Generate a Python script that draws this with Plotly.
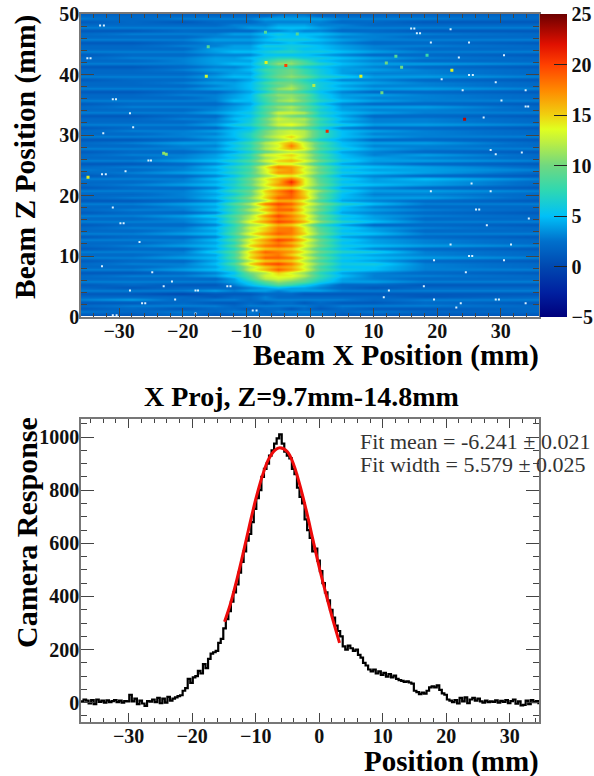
import numpy as np
import plotly.graph_objects as go

W, H = 594, 776
SERIF = "Liberation Serif"

# ---------- 2D map ----------
x_cols = [-37, -28, -20, -15, -12, -9.5, -7, -5, -3, -1, 1.5, 5, 10, 18, 37]
z_rows = [0.25 + 0.5 * i for i in range(100)]
map_rows = [
[1,1,2,1,1,2,2,1,2,2,2,1,1,1,1],
[3,2,3,2,3,3,2,3,3,3,3,2,3,2,2],
[1,2,1,2,2,1,2,2,1,2,1,2,1,1,2],
[2,3,3,3,2,3,3,3,3,3,2,3,3,3,2],
[1,1,2,1,1,2,1,2,2,1,2,1,1,2,1],
[3,4,2,3,3,2,3,3,3,3,3,3,2,3,3],
[2,2,2,1,2,2,3,2,2,2,2,2,2,1,2],
[1,1,0,1,1,1,2,2,2,1,1,1,1,1,1],
[3,3,3,4,3,4,4,3,4,4,4,3,3,3,3],
[2,1,2,2,2,3,4,5,4,4,3,2,1,2,2],
[1,2,1,1,3,5,7,9,8,6,4,2,2,1,1],
[3,3,3,3,4,6,9,11,10,9,6,4,4,3,3],
[2,2,2,2,4,8,12,13,12,10,7,4,3,2,2],
[2,3,3,4,6,9,13,14,14,12,8,5,3,3,2],
[1,1,2,3,5,10,12,15,13,11,7,4,3,2,1],
[3,3,4,5,7,13,16,19,17,14,9,6,5,3,3],
[2,2,3,4,7,12,15,17,16,13,8,5,5,3,2],
[2,3,3,5,9,15,19,20,18,14,10,6,6,3,2],
[1,2,2,4,7,12,15,16,15,12,8,5,4,2,1],
[3,3,4,5,9,15,19,19,18,14,10,6,5,4,3],
[2,2,3,4,8,14,17,18,15,12,8,5,4,3,2],
[3,3,3,6,9,15,19,18,17,14,10,7,6,3,2],
[1,2,2,4,7,12,15,16,15,12,8,5,3,2,1],
[2,3,4,5,9,15,18,19,18,14,10,6,5,4,3],
[2,2,3,4,7,13,16,18,16,13,9,5,4,3,2],
[3,3,3,5,9,14,17,20,19,15,10,6,4,3,2],
[1,2,2,3,7,11,14,16,16,12,8,4,3,2,1],
[3,3,4,5,9,14,17,19,18,15,10,6,5,3,3],
[2,2,3,4,8,12,15,18,18,14,9,5,4,2,2],
[2,3,3,5,8,13,15,18,18,14,9,6,4,3,2],
[1,2,2,3,7,11,13,16,15,12,7,4,2,2,1],
[3,3,3,5,9,14,17,20,19,16,11,7,5,3,3],
[2,2,3,4,8,12,15,18,17,14,9,5,4,2,2],
[3,3,4,6,9,12,17,20,18,15,10,6,4,3,2],
[1,2,2,3,7,10,13,17,16,13,8,4,3,2,1],
[2,3,3,5,8,12,16,19,19,14,10,5,4,3,2],
[2,2,3,4,7,10,14,18,17,13,9,5,3,2,2],
[3,3,4,5,9,12,18,20,19,15,11,7,5,3,3],
[1,1,2,3,6,9,12,16,16,13,8,4,3,2,1],
[2,3,3,5,8,11,15,19,19,16,10,5,4,4,2],
[2,2,3,4,6,9,14,17,19,15,9,5,3,3,2],
[3,3,3,5,8,10,15,18,20,15,11,6,4,4,3],
[1,2,2,3,6,8,12,14,15,12,8,4,3,2,1],
[2,3,4,5,7,10,14,17,19,14,10,6,5,4,2],
[2,2,3,4,6,9,13,16,21,14,9,5,4,4,2],
[3,3,3,5,7,10,14,16,18,14,9,6,4,5,3],
[1,2,2,3,5,8,11,13,14,12,8,4,3,2,1],
[2,3,4,5,7,9,13,17,17,14,10,6,5,4,2],
[3,2,3,4,6,8,13,16,17,13,9,5,4,4,3],
[2,3,3,5,7,9,14,18,17,14,10,6,5,4,2],
[1,1,2,3,5,7,10,13,13,11,7,4,3,2,1],
[3,3,4,5,7,9,13,15,16,14,10,6,4,4,3],
[2,2,3,4,5,7,11,13,14,12,8,5,4,3,2],
[2,3,3,4,6,8,13,14,15,13,9,5,3,4,2],
[1,2,2,3,4,6,9,11,12,11,7,4,3,2,1],
[3,3,3,4,6,8,12,14,16,14,9,6,4,3,3],
[2,2,3,3,5,7,11,13,18,13,8,5,3,3,2],
[2,3,4,4,6,8,12,14,16,13,9,5,4,4,2],
[1,1,2,3,4,6,9,11,13,10,6,4,2,2,1],
[3,3,3,4,5,7,11,13,15,12,8,5,4,3,3],
[2,2,3,3,5,7,10,12,13,12,8,5,3,3,2],
[2,3,3,4,5,6,10,12,13,12,8,5,4,3,2],
[1,2,2,2,4,5,8,10,10,9,6,3,2,2,1],
[3,3,3,4,6,7,10,13,14,12,8,6,4,4,3],
[2,2,2,3,4,6,9,12,12,11,7,4,3,3,2],
[2,2,3,3,5,6,10,13,12,12,8,5,3,3,2],
[1,1,2,2,4,5,8,11,10,9,6,4,2,2,1],
[3,3,3,4,5,6,9,13,13,12,7,5,4,3,3],
[2,2,2,3,4,5,8,10,11,9,6,4,3,3,2],
[2,3,3,3,4,5,9,11,12,10,7,4,4,4,2],
[1,2,2,2,3,4,7,9,9,8,5,3,2,2,1],
[3,3,3,3,5,5,8,11,12,10,7,5,4,3,3],
[2,2,2,3,4,5,8,10,11,9,6,4,3,3,2],
[2,2,3,3,4,5,9,11,11,10,6,4,4,3,2],
[1,1,2,2,3,4,6,9,9,7,5,3,2,2,1],
[3,3,3,4,4,5,8,11,12,9,6,5,4,4,3],
[2,2,2,3,4,5,7,9,11,9,6,4,3,3,2],
[2,2,3,4,4,5,8,10,10,8,6,5,4,3,2],
[1,2,2,3,3,4,6,8,9,7,5,3,3,2,1],
[3,3,3,4,5,5,8,10,11,10,7,6,4,4,3],
[2,2,2,3,4,4,7,9,10,8,6,4,3,3,2],
[2,2,3,4,4,5,8,9,10,8,6,4,4,3,2],
[1,1,2,3,3,4,6,8,8,6,5,4,3,2,1],
[3,3,3,4,5,5,8,11,11,9,7,5,4,4,3],
[2,2,3,4,4,4,7,9,10,8,5,4,3,2,2],
[2,3,3,4,4,5,6,7,7,6,6,5,4,3,2],
[1,2,2,3,3,3,5,5,5,5,4,3,2,2,1],
[3,3,3,4,5,5,6,7,7,6,6,5,4,3,3],
[2,2,2,4,4,4,5,5,6,5,5,4,3,2,2],
[2,2,3,3,4,4,6,6,6,6,5,4,3,3,2],
[1,1,2,3,3,3,4,4,5,4,4,3,2,2,1],
[3,3,3,4,4,4,5,6,6,6,5,4,3,3,3],
[2,2,2,3,3,3,4,5,5,5,4,3,3,2,2],
[2,3,3,3,4,4,5,6,5,5,5,4,3,3,2],
[1,1,2,2,2,2,3,3,4,3,3,2,2,1,1],
[3,3,3,3,3,4,4,5,5,5,4,3,3,3,3],
[2,2,2,2,3,3,3,4,4,4,3,3,2,2,2],
[1,2,1,2,2,2,3,3,3,3,3,2,2,1,1],
[3,2,3,3,3,3,4,4,4,4,4,3,3,3,2],
[2,2,2,2,2,2,2,3,3,3,2,2,2,2,2],
[1,1,1,1,1,1,1,1,2,2,1,1,1,1,1],
]

# dead pixels (white specks) and isolated hot pixels
speck_x = [-33,-32.4,-35,-34.5,-31,-30.5,-28.3,-27.8,-32.5,-25.4,-25,-32.7,-32.1,-29,-31,-29.8,-29.3,-26.8,-24.8,-32.7,-23,-21.7,-28.3,-18,-17.6,-13,-12.5,-26.4,-25.9,-21.2,-18,-31,-30.4,-9,-8.4,
           15.9,16.4,16.8,17.3,22.1,25,19,23.4,30.5,25,25.6,20.7,29.2,24,33.9,30.1,33.9,34.3,27.3,28.4,29.2,33.3,25.4,19,28.4,26.1,26.6,34.4,27.8,22.1,31.6,25,25.5,19.5,30.5,24.5,17.9,11.6,19.5,29.2,29.7,23.7,33.9,12.4,23]
speck_z = [48.1,48.1,42.7,42.7,35.9,35.9,33.6,31.3,30.3,25.8,25.8,23.5,23.5,24,18,15.4,15.4,12.3,7.3,8.3,5,5.8,4.3,4.3,4.3,5,5,2.2,2.2,2.8,0.5,0.2,0.2,1,1,
           47.6,47.6,46.8,46.8,47.5,45.3,45.3,42.8,43.2,39.9,39.9,39.2,38.7,37.4,37.4,35.7,34.7,34.7,32.9,27.5,26.8,27.1,22,20.7,20.7,17.7,17.7,16.2,15.1,11.9,11.9,10,10,9.3,9.3,7.3,5,3.2,2.8,2.8,2.8,2.2,2.2,4.3,1.5]
hot_x = [-3.8,-6.9,-16.3,-16,-2,-7,0.6,22.3,24.3,2.7,11.3,8,14.4,13.5,12,18.4,-23,-22.6,-34.9]
hot_z = [41.5,42,39.7,44.6,46.7,47,38.2,40.7,32.6,30.6,37,39.7,41.2,43,41.9,43.2,27,26.8,23]
hot_v = [20,14,13,9,9,9,12,14,23,21,10,14,10,9,10,8,11,11,14]

colorbar_ticks = [-5, 0, 5, 10, 15, 20, 25]
jet = [[0.0,"#00007c"],[0.08,"#0020a0"],[0.167,"#0048b0"],[0.25,"#0070cc"],[0.333,"#00c0f8"],
       [0.42,"#30d8b0"],[0.5,"#70d880"],[0.58,"#c0f040"],[0.62,"#e0ff20"],[0.667,"#f0d010"],
       [0.75,"#ff8800"],[0.833,"#ff4000"],[0.9,"#e01000"],[1.0,"#6c0000"]]

# ---------- projection ----------
bin_start, bin_width = -37.5, 0.4
proj_counts = [5,12,8,-3,10,-5,12,3,8,0,9,2,6,10,2,8,0,6,5,30,5,15,-5,8,-3,-12,6,4,12,2,18,-2,15,0,22,8,15,20,25,28,
45,55,90,75,95,100,120,110,145,130,165,185,190,195,225,240,280,315,345,380,415,445,490,530,570,610,635,680,730,770,
800,850,880,900,930,950,975,995,1010,975,945,930,920,880,860,810,775,750,690,650,620,570,580,535,495,450,415,385,350,320,
290,270,250,212,200,215,205,195,200,180,170,150,140,125,118,125,110,118,105,112,98,108,95,102,90,85,82,78,80,76,72,45,40,32,38,34,
45,58,62,58,65,48,35,30,12,8,2,10,-3,18,5,20,-2,12,18,8,15,5,0,8,2,5,3,9,0,7,3,10,-2,6,12,-4,5,-10,-8,8,-5,10,2,6,-6]
fit_x = [-14.9,-14,-13,-12,-11,-10,-9,-8,-7,-6.2,-5,-4,-3,-2,-1,0,1,2,3.2]
fit_y = [305,370,460,560,665,765,850,915,950,960,945,895,815,720,615,510,415,325,225]
proj_x = [bin_start + bin_width * i for i in range(len(proj_counts))]

INK = "#333333"
FRAME = "#777777"

def px_x(p): return p / W
def px_y(p): return 1 - p / H

fig = go.Figure()
fig.add_trace(go.Heatmap(x=x_cols, y=z_rows, z=map_rows, zmin=-5, zmax=25, zsmooth="best",
    colorscale=jet, xaxis="x", yaxis="y",
    colorbar=dict(x=px_x(540), xanchor="left", xpad=0, y=px_y(14), yanchor="top", ypad=0,
        lenmode="fraction", len=(316.5-14)/H, thickness=27, thicknessmode="pixels",
        tickvals=colorbar_ticks, ticks="inside", ticklen=13, tickcolor="#222222", tickwidth=1,
        tickfont=dict(family=SERIF, size=20, color="#111111", weight="bold"), outlinewidth=0)))
fig.add_trace(go.Scatter(x=speck_x, y=speck_z, mode="markers", xaxis="x", yaxis="y", showlegend=False,
    marker=dict(symbol="square", size=2, color="#d8f0ff", line_width=0)))
fig.add_trace(go.Scatter(x=hot_x, y=hot_z, mode="markers", xaxis="x", yaxis="y", showlegend=False,
    marker=dict(symbol="square", size=3, color=hot_v, colorscale=jet, cmin=-5, cmax=25, line_width=0)))
fig.add_trace(go.Scatter(x=proj_x, y=proj_counts, mode="lines", xaxis="x2", yaxis="y2", showlegend=False,
    line=dict(color="black", width=2.2, shape="hv")))
fig.add_trace(go.Scatter(x=fit_x, y=fit_y, mode="lines", xaxis="x2", yaxis="y2", showlegend=False,
    line=dict(color="#ee0a0a", width=3, shape="spline")))

def axis(rng, major, minor, dom, anchor, mlen, nlen, **kw):
    return dict(range=rng, domain=dom, anchor=anchor, tick0=0, dtick=major, ticks="inside", ticklen=mlen,
        tickwidth=1.2, tickcolor="#444444", showgrid=False, zeroline=False, showline=True, linecolor=FRAME,
        linewidth=1.5, mirror="allticks", automargin=False,
        minor=dict(tick0=0, dtick=minor, ticks="inside", ticklen=nlen, tickwidth=1, tickcolor="#444444", showgrid=False),
        tickfont=dict(family=SERIF, size=20, color="#111111", weight="bold"), ticklabelstandoff=-4, **kw)

xdom = [px_x(81), px_x(539)]
fig.update_layout(
    width=W, height=H, margin=dict(l=0, r=0, t=0, b=0, autoexpand=False), paper_bgcolor="white", plot_bgcolor="white",
    font=dict(family=SERIF), showlegend=False,
    xaxis=axis([-36, 36], 10, 2, xdom, "y", 9, 4),
    yaxis=axis([0, 50], 10, 2, [px_y(316.5), px_y(14)], "x", 13, 6),
    xaxis2=axis([-37.5, 34.6], 10, 2, xdom, "y2", 9, 4),
    yaxis2=axis([-71.5, 1068], 200, 50, [px_y(721.7), px_y(419)], "x2", 13, 6),
)

def label(text, x, y, size, xanchor="center", angle=0, bold=True, color="black"):
    t = f"<b>{text}</b>" if bold else text
    fig.add_annotation(text=t, x=px_x(x), y=px_y(y), xref="paper", yref="paper", xanchor=xanchor, yanchor="middle",
        showarrow=False, textangle=angle, font=dict(family=SERIF, size=size, color=color))

label("Beam X Position (mm)", 541, 356, 29.5, "right")
label("Beam Z Position (mm)", 26, 157, 29.5, angle=-90)
label("X Proj, Z=9.7mm-14.8mm", 301, 397, 28)
label("Camera Response", 26, 533, 30, angle=-90)
label("Position (mm)", 541, 761, 29, "right")
label("Fit mean = -6.241 ± 0.021", 358, 441, 22, "left", bold=False, color=INK)
label("Fit width = 5.579 ± 0.025", 358, 464, 22, "left", bold=False, color=INK)

fig.write_html("out.html", post_script="document.body.style.margin='0';", config={"displayModeBar": False})
